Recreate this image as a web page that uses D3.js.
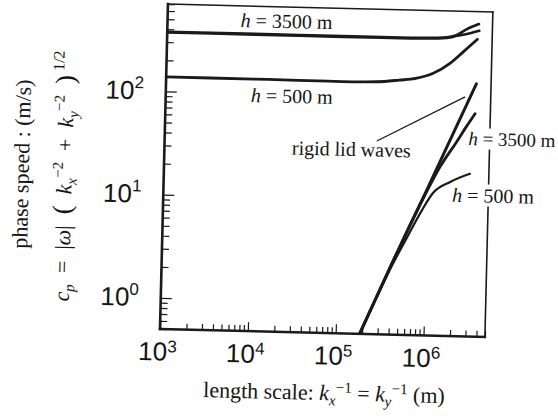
<!DOCTYPE html>
<html><head><meta charset="utf-8">
<style>
body { margin: 0; background: #fff; }
svg { display: block; }
.serif { font-family: "Liberation Serif", "Times New Roman", serif; fill: #151515; }
.ticklab { font-family: "Liberation Sans", Arial, sans-serif; font-size: 26px; fill: #151515; }
.curve { fill: none; stroke: #1a1a1a; stroke-linecap: round; stroke-linejoin: round; }
.tick line { stroke: #1a1a1a; }
</style></head>
<body>
<svg width="558" height="417"></svg>
<script src="https://d3js.org/d3.v7.min.js"></script>
<script>

// axes: length scale k^-1 (m) and phase speed c_p (m/s)
var xDomain = [1e3, 5e6];
var yDomain = [0.5, 700];
var xDecades = [3, 4, 5, 6];
var yDecades = [0, 1, 2];

// curves: [length scale (m), phase speed (m/s)]
var h3500Upper  = [[1e3, 378], [1e4, 378], [1e5, 377], [4.5e5, 377], [1.06e6, 382], [1.66e6, 395], [1.98e6, 412], [2.56e6, 471], [3.5e6, 532]];
var h3500UpperB = [[1e3, 372], [1e4, 372], [1e5, 371], [4.5e5, 371], [1.06e6, 376], [1.66e6, 388], [1.98e6, 404], [2.56e6, 423], [3.55e6, 458]];
var h500Upper   = [[1e3, 138], [1e4, 138], [1e5, 137], [2.5e5, 139], [4.5e5, 146], [6.9e5, 153], [1.09e6, 173], [1.68e6, 218], [2.38e6, 285], [3.4e6, 378]];
var rigidLid    = [[1.85e5, 0.49], [4e5, 2.25], [1e6, 13], [2e6, 50], [3.4e6, 140]];
var h3500Lower  = [[1.85e5, 0.49], [4e5, 2.24], [7.8e5, 8.0], [1.4e6, 22], [2.1e6, 38], [2.7e6, 54], [3.35e6, 72]];
var h500Lower   = [[1.85e5, 0.48], [4e5, 2.15], [6.1e5, 4.4], [8.9e5, 8.2], [1.17e6, 12], [1.82e6, 15.5], [3.04e6, 18.8]];

var curves = [
  { pts: h3500Upper,  w: 2.6 },
  { pts: h3500UpperB, w: 2.6 },
  { pts: h500Upper,   w: 2.8 },
  { pts: rigidLid,    w: 3.0 },
  { pts: h3500Lower,  w: 2.8 },
  { pts: h500Lower,   w: 2.2 }
];

// labels placed at data positions
var labels = [
  { h: "3500 m", at: [2.26e4, 438], anchor: "middle", size: 20 },
  { h: "500 m",  at: [2.72e4, 82.8], anchor: "middle", size: 20 },
  { txt: "rigid lid waves", at: [1.34e5, 26.2], anchor: "middle", size: 20 },
  { h: "3500 m", at: [2.85e6, 35.7], anchor: "start", size: 19, mask: true },
  { h: "500 m",  at: [1.94e6, 10.0], anchor: "start", size: 20, mask: true }
];
var leader = [[2.6e5, 37.1], [2.55e6, 104]];

var svg = d3.select("svg");
var plotLeft = 160, plotRight = 485, plotTop = 4, plotBottom = 329;
var tilt = 1.4; // the printed page is scanned slightly crooked

var x = d3.scaleLog().domain(xDomain).range([plotLeft, plotRight]);
var y = d3.scaleLog().domain(yDomain).range([plotBottom, plotTop]);

var g = svg.append("g")
    .attr("transform", "rotate(" + tilt + "," + plotLeft + "," + plotBottom + ")");

g.append("clipPath").attr("id", "plot")
  .append("rect")
    .attr("x", plotLeft).attr("y", plotTop)
    .attr("width", plotRight - plotLeft).attr("height", plotBottom - plotTop);

function isMajor(d) {
  var l = Math.log10(d);
  return Math.abs(l - Math.round(l)) < 1e-9;
}

function logTicks(domain) {
  var out = [];
  for (var e = -1; e <= 7; e++)
    for (var m = 1; m <= 9; m++) {
      var v = m * Math.pow(10, e);
      if (v >= domain[0] * 0.999 && v <= domain[1] * 1.001) out.push(v);
    }
  return out;
}

// ticks, pointing into the plot
g.append("g")
    .attr("transform", "translate(0," + plotBottom + ")")
    .call(d3.axisBottom(x).tickValues(logTicks(xDomain)).tickSizeOuter(0).tickFormat(""))
    .call(function(s) { s.select(".domain").remove(); })
    .call(function(s) {
      s.selectAll(".tick line")
        .attr("y2", function(d) { return isMajor(d) ? -9 : -6; })
        .attr("stroke-width", 1.2);
    });

g.append("g")
    .attr("transform", "translate(" + plotLeft + ",0)")
    .call(d3.axisLeft(y).tickValues(logTicks(yDomain)).tickSizeOuter(0).tickFormat(""))
    .call(function(s) { s.select(".domain").remove(); })
    .call(function(s) {
      s.selectAll(".tick line")
        .attr("x2", function(d) { return isMajor(d) ? 11 : 7; })
        .attr("stroke-width", 1.2);
    });

// frame
var frame = [
  { x1: plotLeft, y1: plotTop, x2: plotLeft, y2: plotBottom, w: 2.6 },
  { x1: plotLeft, y1: plotBottom, x2: plotRight, y2: plotBottom, w: 2.5 },
  { x1: plotLeft, y1: plotTop, x2: plotRight, y2: plotTop, w: 1.5 },
  { x1: plotRight, y1: plotTop, x2: plotRight, y2: plotBottom, w: 1.6 }
];
g.append("g").selectAll("line").data(frame).join("line")
    .attr("x1", function(d) { return d.x1; }).attr("y1", function(d) { return d.y1; })
    .attr("x2", function(d) { return d.x2; }).attr("y2", function(d) { return d.y2; })
    .attr("stroke", "#1a1a1a")
    .attr("stroke-width", function(d) { return d.w; })
    .attr("stroke-linecap", "square");

// tick labels
xDecades.forEach(function(e) {
  var t = g.append("text").attr("class", "ticklab")
      .attr("x", x(Math.pow(10, e)) - 2).attr("y", 360.5)
      .attr("text-anchor", "middle");
  t.append("tspan").text("10");
  t.append("tspan").attr("font-size", 17).attr("dy", -8.5).text(e);
});
yDecades.forEach(function(e) {
  var t = g.append("text").attr("class", "ticklab")
      .attr("x", 138).attr("y", y(Math.pow(10, e)) + 8.5)
      .attr("text-anchor", "end");
  t.append("tspan").text("10");
  t.append("tspan").attr("font-size", 17).attr("dy", -11).text(e);
});

// curves
var line = d3.line()
    .x(function(d) { return x(d[0]); })
    .y(function(d) { return y(d[1]); })
    .curve(d3.curveMonotoneX);

g.append("g").attr("clip-path", "url(#plot)")
  .selectAll("path").data(curves).join("path")
    .attr("class", "curve")
    .attr("d", function(d) { return line(d.pts); })
    .attr("stroke-width", function(d) { return d.w; });

g.append("path")
    .attr("d", d3.line().x(function(d) { return x(d[0]); }).y(function(d) { return y(d[1]); })(leader))
    .attr("stroke", "#1a1a1a").attr("stroke-width", 1.3).attr("fill", "none");

// curve labels
labels.forEach(function(l) {
  var lg = g.append("g");
  var t = lg.append("text").attr("class", "serif")
      .attr("x", x(l.at[0])).attr("y", y(l.at[1]))
      .attr("text-anchor", l.anchor)
      .style("font-size", l.size + "px");
  if (l.h) {
    t.append("tspan").attr("font-style", "italic").text("h");
    t.append("tspan").text(" = " + l.h);
  } else {
    t.text(l.txt);
  }
  if (l.mask) {
    var b = t.node().getBBox();
    lg.insert("rect", "text")
        .attr("x", b.x - 1).attr("y", b.y)
        .attr("width", b.width + 2).attr("height", b.height)
        .attr("fill", "#fff");
  }
});

// x axis title
var xt = g.append("text").attr("class", "serif")
    .attr("x", 325.5).attr("y", 396)
    .attr("text-anchor", "middle")
    .style("font-size", "22px");
xt.append("tspan").text("length scale: ");
xt.append("tspan").attr("font-style", "italic").text("k");
xt.append("tspan").attr("font-style", "italic").attr("font-size", 15).attr("dy", 5).text("x");
xt.append("tspan").attr("font-size", 15).attr("dy", -13).text("\u22121");
xt.append("tspan").attr("dy", 8).text(" = ");
xt.append("tspan").attr("font-style", "italic").text("k");
xt.append("tspan").attr("font-style", "italic").attr("font-size", 15).attr("dy", 5).text("y");
xt.append("tspan").attr("font-size", 15).attr("dy", -13).text("\u22121");
xt.append("tspan").attr("dy", 8).text(" (m)");

// y axis title, two lines
g.append("text").attr("class", "serif")
    .attr("transform", "translate(25,167.4) rotate(-90)")
    .attr("text-anchor", "middle")
    .style("font-size", "22px")
    .text("phase speed : (m/s)");

var yt = g.append("text").attr("class", "serif")
    .attr("transform", "translate(68,178.4) rotate(-90)")
    .attr("text-anchor", "middle")
    .attr("xml:space", "preserve")
    .style("font-size", "22px");
yt.append("tspan").attr("font-style", "italic").text("c");
yt.append("tspan").attr("font-style", "italic").attr("font-size", 15).attr("dy", 5).text("p");
yt.append("tspan").attr("dy", -5).text("  =  |");
yt.append("tspan").attr("font-style", "italic").text("\u03c9");
yt.append("tspan").text("|  ");
yt.append("tspan").attr("font-size", 27).text("(");
yt.append("tspan").text("  ");
yt.append("tspan").attr("font-style", "italic").text("k");
yt.append("tspan").attr("font-style", "italic").attr("font-size", 15).attr("dy", 5).text("x");
yt.append("tspan").attr("font-size", 15).attr("dy", -14).text("\u22122");
yt.append("tspan").attr("dy", 9).text("  +  ");
yt.append("tspan").attr("font-style", "italic").text("k");
yt.append("tspan").attr("font-style", "italic").attr("font-size", 15).attr("dy", 5).text("y");
yt.append("tspan").attr("font-size", 15).attr("dy", -14).text("\u22122");
yt.append("tspan").attr("dy", 9).text("  ");
yt.append("tspan").attr("font-size", 27).text(")");
yt.append("tspan").attr("font-size", 16).attr("dy", -10).text(" 1/2");

</script>
</body>
</html>
